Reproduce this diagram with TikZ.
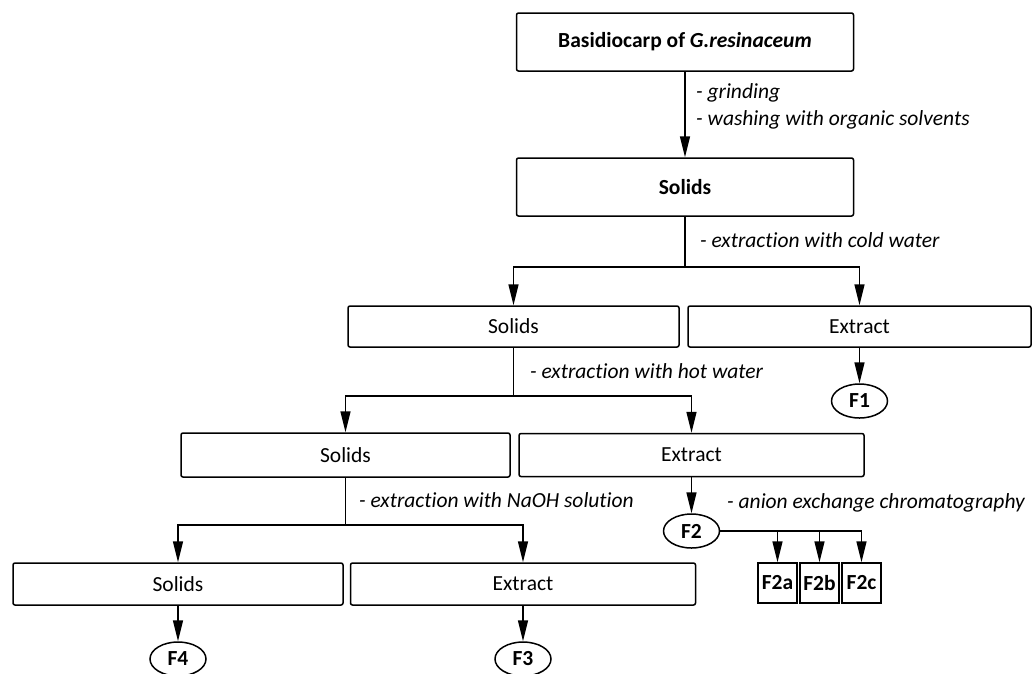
\documentclass[tikz,border=0pt]{standalone}
\usepackage{fontspec}
\setmainfont{Carlito}[Ligatures=NoCommon]
\usetikzlibrary{arrows.meta,shapes.geometric}
\begin{document}
\begin{tikzpicture}[x=1pt,y=-1pt,
  box/.style={draw, rounded corners=2pt, line width=1.5pt, inner sep=0pt, font=\fontsize{21.5}{25}\selectfont},
  oval/.style={draw, ellipse, line width=1.5pt, inner sep=0pt, minimum width=56pt, minimum height=34pt, font=\bfseries\fontsize{21.5}{25}\selectfont},
  sbox/.style={draw, line width=1.5pt, inner sep=0pt, minimum width=39pt, minimum height=40pt, font=\bfseries\fontsize{21.5}{25}\selectfont},
  lbl/.style={anchor=west, inner sep=0pt, font=\itshape\fontsize{21.5}{25}\selectfont},
  conn/.style={line width=1.5pt, -{Triangle[length=21pt,width=10pt]}},
  plain/.style={line width=1.5pt}]
\useasboundingbox (0,0) rectangle (1032,673);

% boxes
\node[box, minimum width=337pt, minimum height=58pt, font=\bfseries\fontsize{21.5}{25}\selectfont] (top) at (685,42) {Basidiocarp of \textit{G.resinaceum}};
\node[box, minimum width=337pt, minimum height=58pt, font=\bfseries\fontsize{21.5}{25}\selectfont] (solidsA) at (685,187) {Solids};
\node[box, minimum width=331pt, minimum height=41pt] (solidsB) at (513.5,326.5) {Solids};
\node[box, minimum width=343pt, minimum height=41pt] (extractA) at (859.5,326.5) {Extract};
\node[box, minimum width=329pt, minimum height=44pt] (solidsC) at (345.5,455) {Solids};
\node[box, minimum width=345pt, minimum height=43pt] (extractB) at (691.5,455) {Extract};
\node[box, minimum width=330pt, minimum height=42pt] (solidsD) at (178,584) {Solids};
\node[box, minimum width=345pt, minimum height=42pt] (extractC) at (523,584) {Extract};

% fractions
\node[oval] (F1) at (859.5,401) {F1};
\node[oval] (F2) at (691.5,531) {F2};
\node[oval] (F3) at (523,659) {F3};
\node[oval] (F4) at (178,659) {F4};
\node[sbox] (F2a) at (777.5,583) {F2a};
\node[sbox] (F2b) at (819.5,583) {F2b};
\node[sbox] (F2c) at (861.5,583) {F2c};

% junctions
\coordinate (j1) at (685,267);
\coordinate (j2) at (513.5,396);
\coordinate (j3) at (345.5,525);

% connectors
\draw[conn] (top) -- (solidsA);
\draw[plain] (solidsA) -- (j1);
\draw[conn] (j1) -| (solidsB);
\draw[conn] (j1) -| (extractA);
\draw[conn] (extractA) -- (F1);
\draw[plain] (solidsB) -- (j2);
\draw[conn] (j2) -| (solidsC);
\draw[conn] (j2) -| (extractB);
\draw[conn] (extractB) -- (F2);
\draw[plain] (solidsC) -- (j3);
\draw[conn] (j3) -| (solidsD);
\draw[conn] (j3) -| (extractC);
\draw[conn] (solidsD) -- (F4);
\draw[conn] (extractC) -- (F3);
\draw[conn] (F2) -| (F2a);
\draw[conn] (F2) -| (F2b);
\draw[conn] (F2) -| (F2c);

% labels
\node[lbl] (l1) at (696,93) {- grinding};
\node[lbl] (l2) at (696,120) {- washing with organic solvents};
\node[lbl] (l3) at (700,240) {- extraction with cold water};
\node[lbl] (l4) at (530,371) {- extraction with hot water};
\node[lbl] (l5) at (359,500) {- extraction with NaOH solution};
\node[lbl] (l6) at (727,503) {- anion exchange chromatography};
\end{tikzpicture}
\end{document}
